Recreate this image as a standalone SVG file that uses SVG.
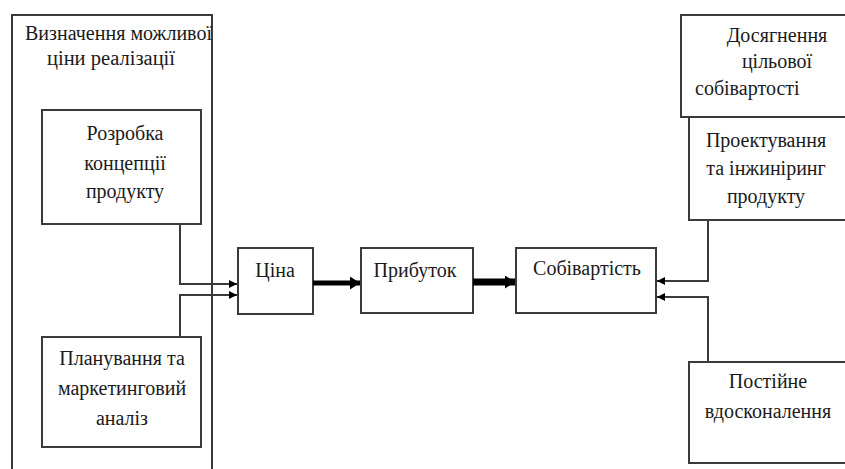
<svg xmlns="http://www.w3.org/2000/svg" width="845" height="469" viewBox="0 0 845 469">
<defs>
<style>
.box{fill:#fff;stroke:#3a3a3a;stroke-width:2}
.t{font-family:'Liberation Serif','DejaVu Serif',serif;font-size:20px;fill:#1a1a1a;text-anchor:middle}
.ts{text-anchor:start}
.ln{fill:none;stroke:#3a3a3a;stroke-width:2}
.thick{fill:none;stroke:#000}
</style>
<marker id="ah" viewBox="0 0 10 10" refX="10" refY="5" markerWidth="8" markerHeight="8" markerUnits="userSpaceOnUse" orient="auto">
<path d="M0,0 L10,5 L0,10 z" fill="#000"/>
</marker>
<marker id="ahb" viewBox="0 0 10 10" refX="10" refY="5" markerWidth="10" markerHeight="13" markerUnits="userSpaceOnUse" orient="auto" preserveAspectRatio="none">
<path d="M0,0 L10,5 L0,10 z" fill="#000"/>
</marker>
<clipPath id="clipL"><rect x="12" y="15" width="200" height="460"/></clipPath>
</defs>
<rect width="845" height="469" fill="#fff"/>

<g id="pricing-group">
<rect class="box" x="12" y="15" width="200" height="470"/>
<g clip-path="url(#clipL)">
<text class="t ts" x="25" y="40" textLength="187" lengthAdjust="spacingAndGlyphs">Визначення можливої</text>
<text class="t ts" x="47" y="65" textLength="128" lengthAdjust="spacingAndGlyphs">ціни реалізації</text>
</g>
</g>

<g id="concept">
<rect class="box" x="42" y="110" width="159" height="114"/>
<text class="t" x="125" y="140">Розробка</text>
<text class="t" x="125" y="170">концепції</text>
<text class="t" x="125" y="198">продукту</text>
</g>

<g id="planning">
<rect class="box" x="42" y="337" width="159" height="110"/>
<text class="t" x="122" y="365">Планування та</text>
<text class="t" x="122" y="395">маркетинговий</text>
<text class="t" x="122" y="425">аналіз</text>
</g>

<g id="price">
<rect class="box" x="238" y="248" width="75" height="66"/>
<text class="t" x="275" y="277">Ціна</text>
</g>

<g id="profit">
<rect class="box" x="361" y="248" width="112" height="65"/>
<text class="t" x="415" y="277">Прибуток</text>
</g>

<g id="cost">
<rect class="box" x="516" y="248" width="140" height="65"/>
<text class="t" x="587" y="275">Собівартість</text>
</g>

<g id="target-cost">
<rect class="box" x="681" y="15" width="170" height="102"/>
<text class="t" x="777" y="42">Досягнення</text>
<text class="t" x="777" y="68">цільової</text>
<text class="t ts" x="695" y="95">собівартості</text>
</g>

<g id="engineering">
<rect class="box" x="689" y="117" width="162" height="103"/>
<text class="t" x="766" y="147">Проектування</text>
<text class="t" x="766" y="175">та інжиніринг</text>
<text class="t" x="766" y="203">продукту</text>
</g>

<g id="improvement">
<rect class="box" x="689" y="362" width="162" height="101"/>
<text class="t" x="768" y="388">Постійне</text>
<text class="t" x="768" y="418">вдосконалення</text>
</g>

<g id="connectors">
<path class="ln" d="M180,224 V284 H237" marker-end="url(#ah)"/>
<path class="ln" d="M180,337 V295 H237" marker-end="url(#ah)"/>
<path class="thick" d="M313,283 H360" stroke-width="5" marker-end="url(#ahb)"/>
<path class="thick" d="M473,282 H515" stroke-width="7" marker-end="url(#ahb)"/>
<path class="ln" d="M708,220 V281 H657" marker-end="url(#ah)"/>
<path class="ln" d="M708,362 V297 H657" marker-end="url(#ah)"/>
</g>
</svg>
